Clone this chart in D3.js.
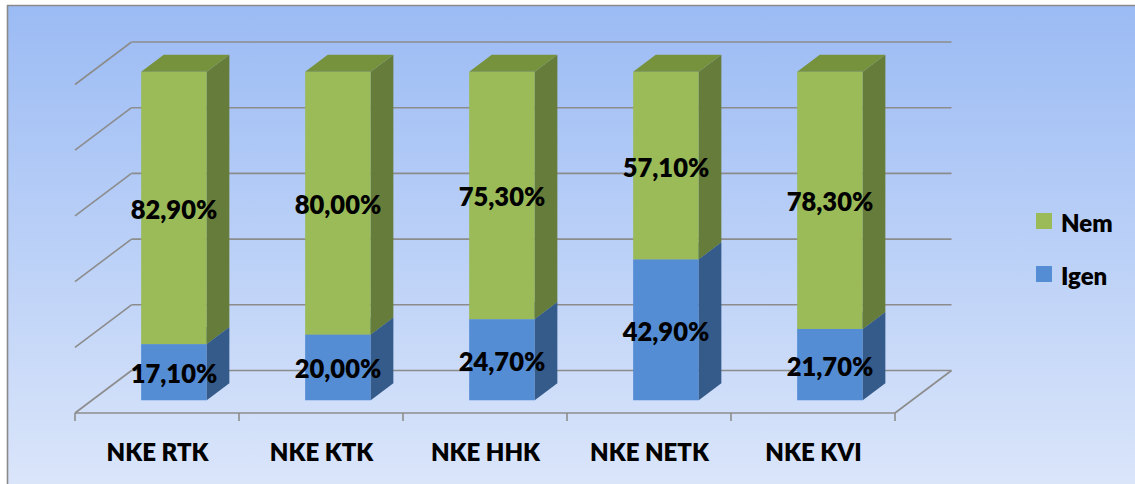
<!DOCTYPE html>
<html>
<head>
<meta charset="utf-8">
<script src="https://cdn.jsdelivr.net/npm/d3@7"></script>
<style>
  html, body { margin: 0; padding: 0; background: #ffffff; }
  svg { display: block; }
  text { font-family: Lato, "Open Sans", "DejaVu Sans", sans-serif; font-weight: 800; fill: #000; }
</style>
</head>
<body>
<svg id="chart" width="1135" height="484"></svg>
<script>
// ---- data ----
const categories = ["NKE RTK", "NKE KTK", "NKE HHK", "NKE NETK", "NKE KVI"];
const igen = [17.1, 20.0, 24.7, 42.9, 21.7];
const nem  = [82.9, 80.0, 75.3, 57.1, 78.3];
const seriesNames = ["Igen", "Nem"];
const yTicks = [0, 20, 40, 60, 80, 100];

// ---- layout ----
const svg = d3.select("#chart");
const W = 1135, H = 484;
const floorY = 413;            // front floor line
const frontX0 = 75, frontX1 = 895;
const depthX = 56.5, depthY = -42.5;   // oblique depth vector
const plotH = 328.5;

const colors = {
  Igen: { front: "#558DD5", side: "#355B8A", top: "#4676B3" },
  Nem:  { front: "#9BBB59", side: "#667C3A", top: "#77923D" }
};

// background
const defs = svg.append("defs");
const grad = defs.append("linearGradient").attr("id", "bg").attr("x1", 0).attr("y1", 0).attr("x2", 0).attr("y2", 1);
grad.append("stop").attr("offset", "0%").attr("stop-color", "#9BBBF4");
grad.append("stop").attr("offset", "100%").attr("stop-color", "#DAE5FA");
svg.append("rect").attr("x", 7).attr("y", 5).attr("width", W - 7).attr("height", H - 5).attr("fill", "url(#bg)");
svg.append("path").attr("d", `M7.5,${H}V5.5H${W}`).attr("fill", "none").attr("stroke", "#8a8a8a").attr("stroke-width", 1.6);

// scales
const x = d3.scaleBand().domain(categories).range([frontX0, frontX1]).paddingInner(0.6).paddingOuter(0.3);
const y = d3.scaleLinear().domain([0, 100]).range([floorY, floorY - plotH]);
const step = x.step();

const grid = svg.append("g").attr("stroke", "#8c8c8c").attr("stroke-width", 1.6).attr("fill", "none");
// back wall gridlines + left wall diagonals
yTicks.forEach(t => {
  const yf = y(t);
  grid.append("line").attr("x1", frontX0 + depthX).attr("x2", frontX1 + depthX)
    .attr("y1", yf + depthY).attr("y2", yf + depthY);
  grid.append("line").attr("x1", frontX0).attr("y1", yf)
    .attr("x2", frontX0 + depthX).attr("y2", yf + depthY);
});
// floor front edge and right edge
grid.append("line").attr("x1", frontX0).attr("x2", frontX1).attr("y1", floorY).attr("y2", floorY);
grid.append("line").attr("x1", frontX1).attr("y1", floorY).attr("x2", frontX1 + depthX).attr("y2", floorY + depthY);
// ticks
d3.range(categories.length + 1).forEach(i => {
  const tx = frontX0 + i * step;
  grid.append("line").attr("x1", tx).attr("x2", tx).attr("y1", floorY).attr("y2", floorY + 8);
});

// bars
const fOff = 0.3, bOff = 0.7;  // depth fractions of bar front/back faces
const fdx = depthX * fOff, fdy = depthY * fOff;
const bdx = depthX * (bOff - fOff), bdy = depthY * (bOff - fOff);
const bw = x.bandwidth();
const bars = svg.append("g");
const labels = svg.append("g");

categories.forEach((c, i) => {
  const x0 = x(c) + fdx;
  const segs = [
    { name: "Igen", v0: 0, v1: igen[i] },
    { name: "Nem", v0: igen[i], v1: igen[i] + nem[i] }
  ];
  segs.forEach(s => {
    const yb = y(s.v0) + fdy, yt = y(s.v1) + fdy;
    const col = colors[s.name];
    const g = bars.append("g");
    g.append("rect").attr("x", x0).attr("y", yt).attr("width", bw).attr("height", yb - yt)
      .attr("fill", col.front);
    g.append("path").attr("d", `M${x0 + bw},${yt}L${x0 + bw + bdx},${yt + bdy}L${x0 + bw + bdx},${yb + bdy}L${x0 + bw},${yb}Z`)
      .attr("fill", col.side);
    g.append("path").attr("d", `M${x0},${yt}L${x0 + bdx},${yt + bdy}L${x0 + bw + bdx},${yt + bdy}L${x0 + bw},${yt}Z`)
      .attr("fill", col.top);
    const val = s.v1 - s.v0;
    labels.append("text").attr("x", x0 + bw / 2).attr("y", (yt + yb) / 2 + 1)
      .attr("text-anchor", "middle").attr("dominant-baseline", "central")
      .attr("font-size", 25.5).text(val.toFixed(2).replace(".", ",") + "%");
  });
  // category label
  svg.append("text").attr("x", frontX0 + (i + 0.5) * step + 0.5).attr("y", 451)
    .attr("text-anchor", "middle").attr("dominant-baseline", "central")
    .attr("font-size", 24).text(c);
});

// legend
const legendItems = [seriesNames[1], seriesNames[0]];
legendItems.forEach((n, k) => {
  const ly = 221 + k * 53;
  svg.append("rect").attr("x", 1036).attr("y", ly - 8).attr("width", 16).attr("height", 16)
    .attr("fill", colors[n].front);
  svg.append("text").attr("x", 1061).attr("y", ly + 1).attr("dominant-baseline", "central")
    .attr("font-size", 24).text(n);
});
</script>
</body>
</html>
